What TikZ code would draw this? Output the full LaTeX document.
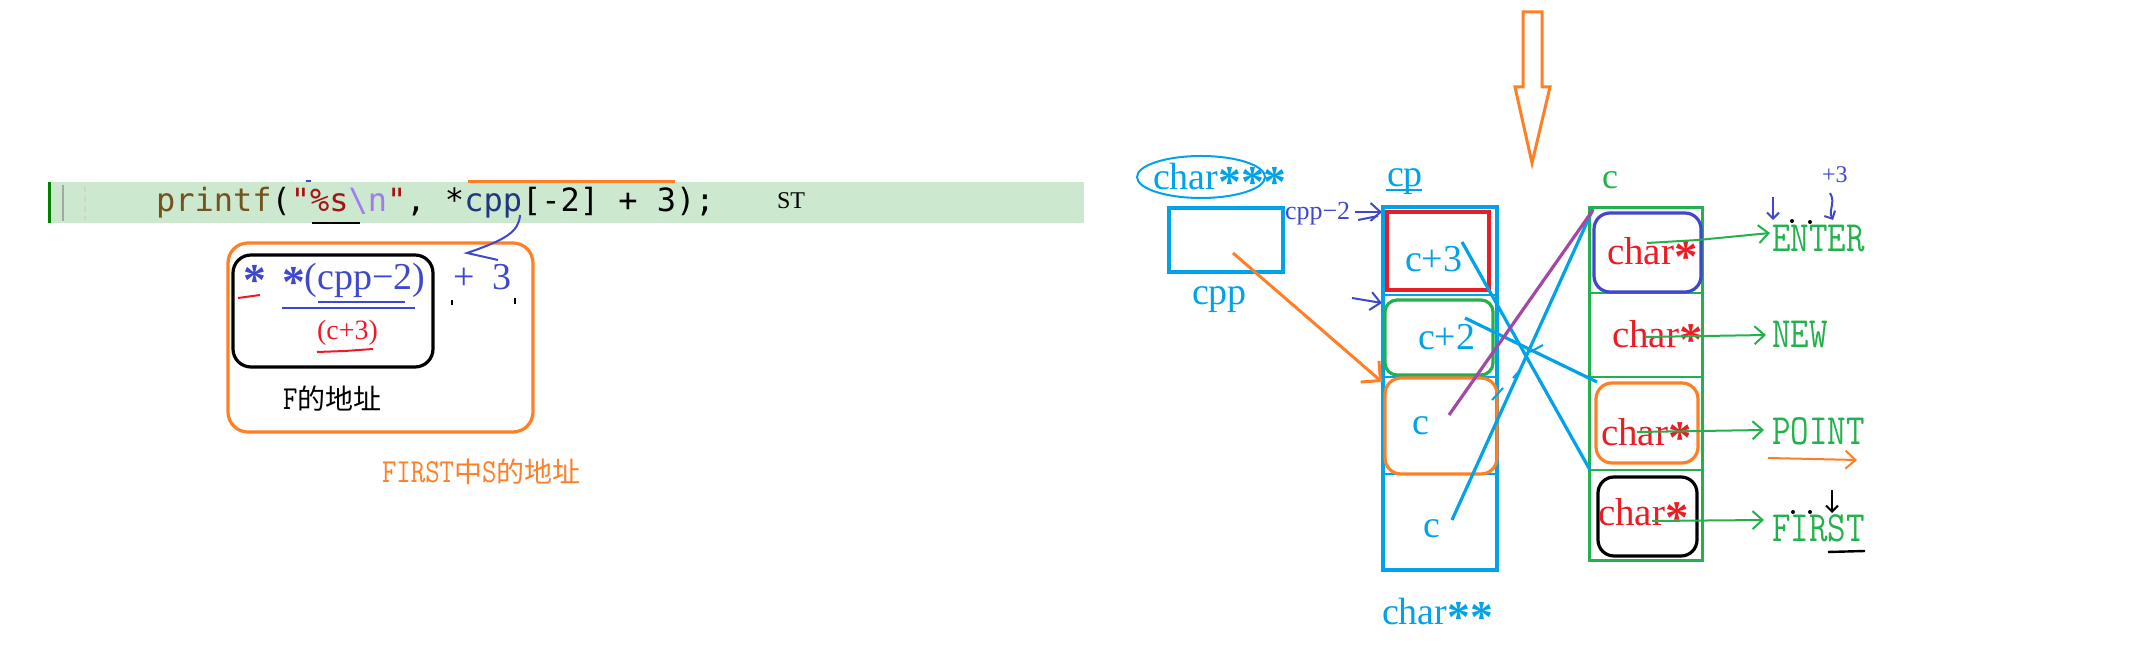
\documentclass[tikz,border=0pt]{standalone}
\usepackage{fontspec}
\setmainfont{Liberation Serif}
\newfontfamily\cjkf{Noto Sans CJK SC}
\newfontfamily\codef{DejaVu Sans Mono}
\usetikzlibrary{arrows.meta}
\definecolor{pblue}{HTML}{00A2E8}
\definecolor{pred}{HTML}{ED1C24}
\definecolor{pgreen}{HTML}{22B14C}
\definecolor{porange}{HTML}{FF7F27}
\definecolor{ppurple}{HTML}{A349A4}
\definecolor{pindigo}{HTML}{3F48CC}
\definecolor{bandc}{HTML}{CCE8CF}
\definecolor{vsbrown}{HTML}{74531F}
\definecolor{vsred}{HTML}{A31515}
\definecolor{vsesc}{HTML}{A07CF0}
\definecolor{vsblue}{HTML}{1F377F}
\newcommand\bast{\raisebox{-0.2em}{\scalebox{1.2}{\bfseries *}}}
\newcommand\capt[1]{\scalebox{1}[1.2]{\ttfamily #1}}
\begin{document}
\begin{tikzpicture}[x=0.5pt,y=-0.5pt,
  every node/.style={inner sep=0pt,outer sep=0pt},
  lbl/.style={anchor=base west},
  bluet/.style={lbl,text=pblue,font=\fontsize{19}{19}\selectfont},
  indt/.style={lbl,text=pindigo,font=\fontsize{19}{19}\selectfont},
  redt/.style={lbl,text=pred,font=\fontsize{19.5}{19.5}\selectfont},
  greent/.style={lbl,text=pgreen,font=\fontsize{18}{18}\selectfont},
  boxn/.style={anchor=north west,line width=1.6pt},
  pen/.style={line width=1pt},
  heavy/.style={line width=1.6pt},
  barb/.style={-{Straight Barb[length=5pt,width=9pt]}},
  sbarb/.style={-{Straight Barb[length=3pt,width=6pt]}},
  bbarb/.style={-{Straight Barb[length=7pt,width=14pt]}}]
\useasboundingbox (0,0) rectangle (2143,672);

% ---------- code line ----------
\fill[bandc] (48,182) rectangle (1084,223);
\draw[green!50!black,line width=1.5pt] (49.5,182) -- (49.5,223);
\draw[gray!70,pen] (63,185) -- (63,221);
\draw[gray!35,line width=0.8pt,dash pattern=on 3pt off 2pt] (85,186) -- (85,220);
\node[lbl,font=\codef\fontsize{16}{16}\selectfont] (code) at (156,212)
  {\textcolor{vsbrown}{printf}(\textcolor{vsred}{"\%s}\textcolor{vsesc}{\textbackslash n}\textcolor{vsred}{"}, *\textcolor{vsblue}{cpp}[-2] + 3);};
\node[anchor=base,font=\fontsize{12}{12}\selectfont] (st) at (791,209) {ST};
\draw[porange,line width=1.5pt] (468,182) -- (675,182);
\draw[black,pen] (312,223) -- (360,223);
\draw[pindigo,pen] (306,181) -- (311,181);

% ---------- expression ----------
\node[draw=porange,boxn,rounded corners=10pt,minimum width=152.5pt,minimum height=94.5pt] (obox) at (228,243) {};
\node[draw=black,boxn,rounded corners=9pt,minimum width=100pt,minimum height=56pt] (kbox) at (233,255) {};
\coordinate (cppbot) at (520,215);
\coordinate (arrtip) at (467,253);
\draw[pindigo,pen] (cppbot) .. controls (519,232) and (505,240) .. (arrtip) -- (498,260);
\node[indt] (s1) at (243,288) {\bast};
\node[indt] (s2) at (282,290) {\bast(cpp−2)};
\node[indt] (plus) at (453,290) {+};
\node[indt] (three) at (492,290) {3};
\draw[pindigo,pen] (282,308) -- (415,308);
\draw[pindigo,pen] (318,302) -- (405,302);
\draw[pred,pen] (238,298) -- (260,295);
\draw[black,pen] (452,300) -- (452,305);
\draw[black,pen] (515,298) -- (515,304);
\node[lbl,text=pred,font=\fontsize{14}{14}\selectfont] (c3) at (317,340) {(c+3)};
\draw[pred,pen] (317,352) -- (345,351) -- (373,349);
\node[lbl,font=\fontsize{14}{14}\selectfont] (faddr) at (283,410) {\capt{F}\cjkf 的地址};
\node[lbl,text=porange,font=\fontsize{14}{14}\selectfont] (saddr) at (382,483)
  {\capt{FIRST}{\cjkf 中}\capt{S}{\cjkf 的地址}};

% ---------- big arrow ----------
\draw[porange,line width=1.5pt,line join=miter] (1523,12) -- (1542,12) -- (1542,87) -- (1550,87)
  -- (1532,163) -- (1515,87) -- (1523,87) -- cycle;

% ---------- cpp ----------
\node[bluet] (c3s) at (1153,190) {char\bast\bast\bast};
\draw[pblue,pen] (1201,177) ellipse [x radius=32pt,y radius=10.5pt];
\node[draw=pblue,boxn,minimum width=57pt,minimum height=32pt] (cppbox) at (1169,208) {};
\node[bluet] (cpplbl) at (1192,305) {cpp};

% ---------- cp column ----------
\node[bluet] (cplbl) at (1387,187) {cp};
\draw[pblue,pen] (1386,190) -- (1422,190);
\node[lbl,text=pindigo,font=\fontsize{13}{13}\selectfont] (cpm2) at (1285,220) {cpp−2};
\coordinate (colA) at (1382,212);
\coordinate (colB) at (1382,303);
\draw[pindigo,pen,barb] (1355,212) -- (colA);
\draw[pindigo,pen] (1358,220) -- (1378,216);
\draw[pindigo,pen,barb] (1352,298) -- (colB);
\node[draw=pblue,boxn,minimum width=57pt,minimum height=181.5pt] (cpcol) at (1383,207) {};
\draw[pblue,pen] (1383,295) -- (1497,295);
\draw[pblue,pen] (1383,377) -- (1497,377);
\draw[pblue,pen] (1383,474) -- (1497,474);
\node[draw=pred,boxn,minimum width=51pt,minimum height=39pt] (r0) at (1387,212) {};
\node[draw=pgreen,boxn,rounded corners=6pt,minimum width=54pt,minimum height=37.5pt] (r1) at (1385,300) {};
\node[draw=porange,boxn,rounded corners=8pt,minimum width=56pt,minimum height=48pt] (r2) at (1385,378) {};
\node[bluet] (t0) at (1405,272) {c+3};
\node[bluet] (t1) at (1418,350) {c+2};
\node[bluet] (t2) at (1412,435) {c};
\node[bluet] (t3) at (1423,538) {c};
\node[bluet] (cpty) at (1382,625) {char\bast\bast};

% ---------- c column ----------
\node[greent] (clbl) at (1602,189) {c};
\node[draw=pgreen,boxn,line width=1.5pt,minimum width=56.5pt,minimum height=176.5pt] (ccol) at (1589,208) {};
\draw[pgreen,pen] (1589,293) -- (1702,293);
\draw[pgreen,pen] (1589,377) -- (1702,377);
\draw[pgreen,pen] (1589,470) -- (1702,470);
\node[draw=pindigo,boxn,rounded corners=8pt,minimum width=53.5pt,minimum height=39.5pt] (q0) at (1594,213) {};
\node[draw=porange,boxn,rounded corners=8pt,minimum width=51pt,minimum height=40pt] (q2) at (1596,383) {};
\node[draw=black,boxn,rounded corners=8pt,minimum width=49.5pt,minimum height=39.5pt] (q3) at (1598,477) {};
\node[redt] (u0) at (1607,265) {char\bast};
\node[redt] (u1) at (1612,348) {char\bast};
\node[redt] (u2) at (1601,446) {char\bast};
\node[redt] (u3) at (1598,526) {char\bast};

% ---------- strings ----------
\node[lbl,text=pgreen,font=\fontsize{18}{18}\selectfont] (sE) at (1772,252) {\capt{ENTER}};
\node[lbl,text=pgreen,font=\fontsize{18}{18}\selectfont] (sN) at (1772,348) {\capt{NEW}};
\node[lbl,text=pgreen,font=\fontsize{18}{18}\selectfont] (sP) at (1772,445) {\capt{POINT}};
\node[lbl,text=pgreen,font=\fontsize{18}{18}\selectfont] (sF) at (1772,542) {\capt{FIRST}};
\coordinate (g0s) at (1647,243); \coordinate (g0e) at (1770,233);
\coordinate (g1s) at (1645,337); \coordinate (g1e) at (1766,335);
\coordinate (g2s) at (1637,432); \coordinate (g2e) at (1764,430);
\coordinate (g3s) at (1652,521); \coordinate (g3e) at (1764,520);
\draw[pgreen,pen,barb] (g0s) -- (1698,240) -- (g0e);
\draw[pgreen,pen,barb] (g1s) -- (g1e);
\draw[pgreen,pen,barb] (g2s) -- (g2e);
\draw[pgreen,pen,barb] (g3s) -- (g3e);

% annotations near strings
\node[lbl,text=pindigo,font=\fontsize{12}{12}\selectfont] (p3) at (1822,183) {+3};
\draw[pindigo,pen,sbarb] (1773,197) -- (1773,220);
\draw[pindigo,pen,sbarb] (1830,193) .. controls (1836,203) and (1828,210) .. (1833,220);
\fill[black] (1792,221) circle (1pt);
\fill[black] (1810,222) circle (1pt);
\draw[porange,pen,barb] (1768,458) -- (1857,460);
\draw[black,pen,sbarb] (1832,490) -- (1832,513);
\fill[black] (1793,512) circle (1pt);
\fill[black] (1810,512) circle (1pt);
\draw[black,line width=1.2pt] (1828,552) -- (1865,551);

% ---------- pointer lines ----------
\coordinate (o1) at (1233,253);
\coordinate (o2) at (1382,382);
\draw[porange,line width=1.5pt,bbarb] (o1) -- (o2);
\coordinate (lc0) at (1462,242); \coordinate (rc3) at (1590,470);
\coordinate (lc1) at (1465,318); \coordinate (rc2) at (1597,382);
\coordinate (lc3) at (1452,520); \coordinate (rc0) at (1593,209);
\coordinate (lc2) at (1449,415); \coordinate (rc0b) at (1593,210);
\draw[pblue,heavy] (lc0) -- (rc3);
\draw[pblue,heavy] (lc1) -- (rc2);
\draw[pblue,heavy] (lc3) -- (rc0);
\draw[ppurple,heavy] (lc2) -- (rc0b);
\draw[pblue,pen] (1492,400) -- (1503,388);
\draw[pblue,pen] (1513,378) -- (1520,370);
\draw[pblue,pen] (1530,352) -- (1543,345);
\end{tikzpicture}
\end{document}
